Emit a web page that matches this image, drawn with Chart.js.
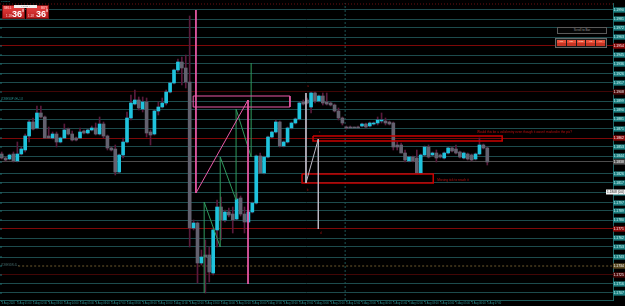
<!DOCTYPE html>
<html>
<head>
<meta charset="utf-8">
<script src="https://cdn.jsdelivr.net/npm/chart.js@4.4.1/dist/chart.umd.min.js"></script>
<style>
  html, body { margin: 0; padding: 0; background: #000; }
  #wrap { position: relative; width: 625px; height: 306px; overflow: hidden; background: #000; font-family: "Liberation Sans", Arial, sans-serif; }
  #chart { position: absolute; left: 0; top: 0; }
  .qbox { position: absolute; top: 5px; width: 23px; height: 14px; box-sizing: border-box; background: linear-gradient(#e84141, #b81d1d); border: 1px solid #7c1010; color: #fff; }
  .qbox .big { position: absolute; top: 4px; font-size: 9px; font-weight: bold; line-height: 9px; }
  .qbox .sup { position: absolute; top: 3px; font-size: 4px; line-height: 4px; }
  .qbox .tiny { position: absolute; font-size: 3px; line-height: 3px; color: #ffd8d8; }
  #lotbar { position: absolute; left: 14px; top: 5px; width: 23px; height: 3px; background: #f0f0f0; color: #555; font-size: 2.5px; line-height: 3px; text-align: center; }
  #toptxt { position: absolute; left: 1px; top: 0px; font-size: 2.5px; line-height: 3px; color: #2aa0a0; }
  #scrollbox { position: absolute; left: 557px; top: 27px; width: 50px; height: 7px; box-sizing: border-box; border: 1px solid #5a5a5a; background: #050505; color: #9a9a9a; font-size: 3px; line-height: 5px; text-align: center; }
  #btnrow { position: absolute; left: 555px; top: 38px; width: 52px; height: 10px; box-sizing: border-box; border: 1px solid #666; background: #1a1a1a; display: flex; gap: 1px; padding: 1px; }
  #btnrow div { flex: 1; background: linear-gradient(#e8503a 0 45%, #c83424 55% 100%); color: #ffe; font-size: 2.5px; line-height: 3.5px; text-align: center; }
</style>
</head>
<body>
<div id="wrap">
  <canvas id="chart" width="625" height="306"></canvas>
  <div id="toptxt">0.00000</div>
  <div class="qbox" style="left:2px">
    <span class="tiny" style="left:1px;top:1px">SELL</span>
    <span class="tiny" style="left:3px;top:9px">1.18</span>
    <span class="big" style="left:9px">36</span>
    <span class="sup" style="left:19px">8</span>
  </div>
  <div class="qbox" style="left:26px">
    <span class="tiny" style="left:14px;top:1px">BUY</span>
    <span class="tiny" style="left:1px;top:9px">1.18</span>
    <span class="big" style="left:9px">36</span>
    <span class="sup" style="left:19px">8</span>
  </div>
  <div id="lotbar">− 0.01 +</div>
  <div id="scrollbox">Scroll to Bar</div>
  <div id="btnrow"><div>M1</div><div>M5</div><div>M15</div><div>H1</div><div>H4</div></div>
</div>
<script>
// etiquetas de tiempo (una cada 4 velas)
const timeLabels = [
  "4 Aug 2020", "4 Aug 01:00", "4 Aug 02:00", "4 Aug 03:00", "4 Aug 04:00", "4 Aug 05:00",
  "4 Aug 06:00", "4 Aug 07:00", "4 Aug 08:00", "4 Aug 09:00", "4 Aug 10:00", "4 Aug 11:00",
  "4 Aug 12:00", "4 Aug 13:00", "4 Aug 14:00", "4 Aug 15:00", "4 Aug 16:00", "4 Aug 17:00",
  "4 Aug 18:00", "4 Aug 19:00", "4 Aug 20:00", "4 Aug 21:00", "4 Aug 22:00", "4 Aug 23:00",
  "5 Aug 00:00", "5 Aug 01:00", "5 Aug 02:00", "5 Aug 03:00", "5 Aug 04:00", "5 Aug 05:00",
  "5 Aug 06:00", "5 Aug 07:00"
];

// velas
const open = [
  1.1846, 1.1842, 1.1841, 1.1846, 1.1839, 1.1846, 1.1850, 1.1864, 1.1878, 1.1872,
  1.1887, 1.1883, 1.1864, 1.1862, 1.1866, 1.1858, 1.1862, 1.1871, 1.1866, 1.1862,
  1.1862, 1.1869, 1.1867, 1.1870, 1.1872, 1.1866, 1.1876, 1.1864, 1.1852, 1.1851,
  1.1828, 1.1845, 1.1858, 1.1882, 1.1896, 1.1900, 1.1891, 1.1898, 1.1868, 1.1866,
  1.1889, 1.1893, 1.1897, 1.1908, 1.1917, 1.1930, 1.1938, 1.1932, 1.1918, 1.1772,
  1.1777, 1.1737, 1.1745, 1.1745, 1.1727, 1.1770, 1.1793, 1.1780, 1.1788, 1.1786,
  1.1781, 1.1802, 1.1786, 1.1778, 1.1788, 1.1797, 1.1844, 1.1827, 1.1843, 1.1863,
  1.1868, 1.1878, 1.1854, 1.1858, 1.1872, 1.1877, 1.1881, 1.1898, 1.1900, 1.1893,
  1.1907, 1.1899, 1.1904, 1.1898, 1.1897, 1.1895, 1.1889, 1.1882, 1.1873, 1.1873,
  1.1873, 1.1873, 1.1874, 1.1876, 1.1874, 1.1876, 1.1877, 1.1879, 1.1879, 1.1878,
  1.1877, 1.1855, 1.1855, 1.1847, 1.1839, 1.1843, 1.1842, 1.1827, 1.1845, 1.1853,
  1.1845, 1.1847, 1.1845, 1.1842, 1.1847, 1.1852, 1.1851, 1.1848, 1.1842, 1.1846,
  1.1845, 1.1841, 1.1846, 1.1855, 1.1852
];
const high = [
  1.1848, 1.1843, 1.1846, 1.1848, 1.1858, 1.1853, 1.1866, 1.1880, 1.1882, 1.1894,
  1.1894, 1.1884, 1.1873, 1.1868, 1.1868, 1.1863, 1.1876, 1.1872, 1.1869, 1.1863,
  1.1872, 1.1870, 1.1871, 1.1874, 1.1877, 1.1883, 1.1878, 1.1865, 1.1853, 1.1855,
  1.1846, 1.1862, 1.1888, 1.1905, 1.1910, 1.1903, 1.1903, 1.1902, 1.1870, 1.1890,
  1.1898, 1.1902, 1.1910, 1.1918, 1.1931, 1.1941, 1.1943, 1.1945, 1.1984, 1.1780,
  1.1778, 1.1750, 1.1760, 1.1753, 1.1772, 1.1800, 1.1803, 1.1790, 1.1792, 1.1793,
  1.1807, 1.1804, 1.1793, 1.1790, 1.1798, 1.1845, 1.1847, 1.1844, 1.1864, 1.1869,
  1.1880, 1.1879, 1.1859, 1.1873, 1.1878, 1.1882, 1.1898, 1.1900, 1.1902, 1.1908,
  1.1908, 1.1905, 1.1907, 1.1907, 1.1898, 1.1896, 1.1892, 1.1883, 1.1874, 1.1874,
  1.1873, 1.1874, 1.1877, 1.1877, 1.1878, 1.1878, 1.1883, 1.1887, 1.1882, 1.1879,
  1.1878, 1.1858, 1.1857, 1.1850, 1.1844, 1.1844, 1.1850, 1.1846, 1.1854, 1.1855,
  1.1848, 1.1850, 1.1846, 1.1848, 1.1853, 1.1853, 1.1855, 1.1849, 1.1848, 1.1847,
  1.1846, 1.1847, 1.1862, 1.1856, 1.1853
];
const low = [
  1.1841, 1.1839, 1.1840, 1.1838, 1.1838, 1.1845, 1.1848, 1.1858, 1.1870, 1.1871,
  1.1882, 1.1862, 1.1862, 1.1861, 1.1853, 1.1857, 1.1862, 1.1865, 1.1859, 1.1859,
  1.1862, 1.1866, 1.1866, 1.1869, 1.1865, 1.1865, 1.1862, 1.1850, 1.1849, 1.1825,
  1.1827, 1.1842, 1.1857, 1.1880, 1.1895, 1.1890, 1.1888, 1.1863, 1.1855, 1.1865,
  1.1885, 1.1892, 1.1895, 1.1907, 1.1916, 1.1928, 1.1915, 1.1912, 1.1753, 1.1770,
  1.1717, 1.1735, 1.1707, 1.1718, 1.1725, 1.1753, 1.1760, 1.1778, 1.1783, 1.1767,
  1.1780, 1.1784, 1.1767, 1.1777, 1.1787, 1.1796, 1.1827, 1.1826, 1.1842, 1.1862,
  1.1867, 1.1853, 1.1853, 1.1857, 1.1871, 1.1876, 1.1880, 1.1895, 1.1896, 1.1887,
  1.1897, 1.1898, 1.1895, 1.1895, 1.1894, 1.1888, 1.1880, 1.1875, 1.1871, 1.1872,
  1.1872, 1.1872, 1.1873, 1.1872, 1.1873, 1.1875, 1.1875, 1.1877, 1.1875, 1.1875,
  1.1850, 1.1850, 1.1847, 1.1838, 1.1838, 1.1838, 1.1826, 1.1826, 1.1844, 1.1842,
  1.1844, 1.1838, 1.1842, 1.1841, 1.1846, 1.1848, 1.1846, 1.1842, 1.1841, 1.1840,
  1.1839, 1.1840, 1.1845, 1.1851, 1.1835
];
const close = [
  1.1842, 1.1840, 1.1845, 1.1839, 1.1846, 1.1851, 1.1864, 1.1878, 1.1871, 1.1887,
  1.1883, 1.1862, 1.1862, 1.1866, 1.1858, 1.1862, 1.1870, 1.1866, 1.1860, 1.1860,
  1.1868, 1.1867, 1.1870, 1.1872, 1.1866, 1.1876, 1.1864, 1.1852, 1.1850, 1.1828,
  1.1845, 1.1858, 1.1882, 1.1897, 1.1900, 1.1892, 1.1898, 1.1867, 1.1865, 1.1889,
  1.1893, 1.1897, 1.1908, 1.1917, 1.1930, 1.1938, 1.1932, 1.1918, 1.1772, 1.1777,
  1.1737, 1.1743, 1.1743, 1.1728, 1.1770, 1.1793, 1.1780, 1.1788, 1.1785, 1.1780,
  1.1801, 1.1786, 1.1778, 1.1788, 1.1797, 1.1844, 1.1827, 1.1843, 1.1863, 1.1868,
  1.1878, 1.1854, 1.1858, 1.1872, 1.1877, 1.1881, 1.1897, 1.1896, 1.1897, 1.1907,
  1.1899, 1.1904, 1.1897, 1.1896, 1.1895, 1.1889, 1.1882, 1.1877, 1.1872, 1.1872,
  1.1872, 1.1872, 1.1876, 1.1873, 1.1877, 1.1877, 1.1880, 1.1880, 1.1877, 1.1876,
  1.1853, 1.1853, 1.1847, 1.1840, 1.1843, 1.1839, 1.1827, 1.1845, 1.1853, 1.1843,
  1.1847, 1.1842, 1.1843, 1.1847, 1.1852, 1.1849, 1.1847, 1.1843, 1.1847, 1.1841,
  1.1840, 1.1846, 1.1855, 1.1852, 1.1838
];

// niveles horizontales (t = teal, r = rojo, d = rojo oscuro, g = gris, b = discontinuo)
const levels = [
  1.1990, 1.1981, 1.1972, 1.1963, 1.1954, 1.1945, 1.1936, 1.1926, 1.1917, 1.1908,
  1.1899, 1.1890, 1.1881, 1.1871, 1.1862, 1.1853, 1.1844, 1.1838, 1.1826, 1.1817,
  1.1807, 1.1797, 1.1789, 1.1780, 1.1771, 1.1762, 1.1753, 1.1743, 1.1734, 1.1725,
  1.1716, 1.1707
];
const levelKinds = [
  "t", "t", "t", "t", "r", "t", "t", "t", "t", "d",
  "t", "t", "t", "t", "r", "t", "t", "g", "t", "t",
  "t", "t", "t", "t", "r", "t", "t", "t", "b", "d",
  "t", "t"
];

// dibujos (indice de vela, precio)
const pinkPath = [
  { x: 49.6, y: 1.1990 }, { x: 49.6, y: 1.1807 }, { x: 62.9, y: 1.1900 }, { x: 62.9, y: 1.1716 }
];
const pinkBox = [
  { x: 48.9, y: 1.1904 }, { x: 73.6, y: 1.1904 }, { x: 73.6, y: 1.1893 }, { x: 48.9, y: 1.1893 }, { x: 48.9, y: 1.1904 }
];
const greenZigzag = [
  { x: 51.7, y: 1.1707 }, { x: 51.7, y: 1.1798 }, { x: 55.8, y: 1.1753 }, { x: 55.8, y: 1.1843 },
  { x: 59.85, y: 1.1800 }, { x: 59.85, y: 1.1891 }, { x: 63.7, y: 1.1843 }, { x: 63.7, y: 1.1937 }
];
const grayPath = [
  { x: 77.7, y: 1.1907 }, { x: 77.7, y: 1.1817 }, { x: 80.85, y: 1.1861 }, { x: 80.85, y: 1.1771 }
];
const redBox1 = [
  { x: 79.5, y: 1.1864 }, { x: 127.8, y: 1.1864 }, { x: 127.8, y: 1.1859 }, { x: 79.5, y: 1.1859 }, { x: 79.5, y: 1.1864 }
];
const redBox2 = [
  { x: 76.7, y: 1.1826 }, { x: 110.2, y: 1.1826 }, { x: 110.2, y: 1.1817 }, { x: 76.7, y: 1.1817 }, { x: 76.7, y: 1.1826 }
];
const sepLine = [{ x: 87.7, y: 1.1700 }, { x: 87.7, y: 1.1997 }];
const dashLevel = [{ x: 4.2, y: 1.1734 }, { x: 156.1, y: 1.1734 }];
const topDots = [{ x: -0.434, y: 1.1996 }, { x: 156.1, y: 1.1996 }];

// textos
const noteTexts = ["Would this be a valid entry even though it wasn't marked in the pic?", "Missing tick to reach it"];
const noteX = [121.4, 111.2];
const noteY = [1.1868, 1.1820];
const markTexts = ["a", "b", "c", "d"];
const markX = [78.0, 77.9, 81.05, 81.3];
const markY = [1.1914, 1.1810, 1.1868, 1.1767];
const zoneTexts = ["ZONESUP 4H ▪1.8", "ZONESDN 4L ▪"];
const zoneY = [1.1900, 1.1734];
const bidPrice = 1.1808;

const cBull = "#1fc3dd";
const cBear = "#63616f";
const cWick = "#5a1a3c";
const lineCol = { t: "#1d4b4d", r: "#7e0808", d: "#420606", g: "#4d4d4d", b: "rgba(0,0,0,0)" };
const tagFill = { t: "#1b7d7f", r: "#8a0a0a", d: "#4a0808", g: "#555555", b: "#5a4a22" };

Chart.defaults.font.family = "'Liberation Sans', Arial, sans-serif";

function trazo(data, color, extra) {
  return Object.assign({
    type: "line", data: data, borderColor: color, borderWidth: 1,
    pointRadius: 0, fill: false, tension: 0, order: 1
  }, extra || {});
}

const notasPlugin = {
  id: "notas",
  afterDatasetsDraw(chart) {
    const { ctx, scales } = chart;
    const sx = scales.x, sy = scales.y;
    ctx.save();
    ctx.textBaseline = "middle";
    ctx.fillStyle = "#c01010";
    ctx.font = "3.2px 'Liberation Sans'";
    noteTexts.forEach((t, i) => ctx.fillText(t, sx.getPixelForValue(noteX[i]), sy.getPixelForValue(noteY[i])));
    ctx.fillStyle = "#a01010";
    ctx.font = "3px 'Liberation Sans'";
    markTexts.forEach((t, i) => ctx.fillText(t, sx.getPixelForValue(markX[i]), sy.getPixelForValue(markY[i])));
    ctx.font = "2.6px 'Liberation Sans'";
    zoneTexts.forEach((t, i) => {
      ctx.fillStyle = i === 0 ? "#2a9a9a" : "#4a7070";
      ctx.fillText(t, chart.chartArea.left + 1, sy.getPixelForValue(zoneY[i]) - 1);
    });
    // marcas del borde izquierdo
    ctx.fillStyle = "#1f6f70";
    levels.forEach(v => ctx.fillRect(chart.chartArea.left, sy.getPixelForValue(v) - 0.5, 2, 1));
    // etiqueta blanca del precio
    const yb = sy.getPixelForValue(bidPrice);
    ctx.fillStyle = "#f4f4f4";
    ctx.fillRect(606, yb - 2.5, 19, 5);
    ctx.fillStyle = "#222";
    ctx.font = "3.2px 'Liberation Sans'";
    ctx.fillText(bidPrice.toFixed(4) + " (0.0)", 607, yb);
    ctx.restore();
  }
};

const wickData = open.map((o, i) => ({ x: i, y: [low[i], high[i]] }));
const bodyData = open.map((o, i) => ({ x: i, y: [o, close[i]] }));
const bodyColors = open.map((o, i) => (close[i] > o ? cBull : cBear));

new Chart(document.getElementById("chart"), {
  type: "bar",
  data: {
    datasets: [
      trazo(pinkPath, "#ea5aa8", { order: 0 }),
      trazo(pinkBox, "#ea5aa8", { order: 0 }),
      trazo(greenZigzag, "#2f9a5e", { order: 0 }),
      trazo(grayPath, "#bcb8c4", { order: 0 }),
      trazo(redBox1, "#cc0000", { borderWidth: 1.5, order: 0 }),
      trazo(redBox2, "#cc0000", { borderWidth: 1.5, order: 0 }),
      trazo(topDots, "#6e1010", { borderDash: [1, 2], order: 9 }),
      trazo(dashLevel, "#6e5a2e", { borderDash: [2, 2], order: 9 }),
      trazo(sepLine, "#1e5656", { borderDash: [2, 2], order: 9 }),
      { type: "bar", data: bodyData, backgroundColor: bodyColors, barThickness: 3, grouped: false, minBarLength: 1, order: 5 },
      { type: "bar", data: wickData, backgroundColor: cWick, barThickness: 1, grouped: false, order: 6 }
    ]
  },
  options: {
    responsive: false,
    animation: false,
    events: [],
    layout: { padding: { top: 3, left: 0, right: 0, bottom: 0 } },
    plugins: { legend: { display: false }, tooltip: { enabled: false } },
    scales: {
      x: {
        type: "linear", min: -0.434, max: 156.1, offset: false,
        afterBuildTicks: s => { s.ticks = timeLabels.map((t, k) => ({ value: k * 4 })); },
        afterFit: s => { s.height = 6; },
        ticks: {
          autoSkip: false, maxRotation: 0, minRotation: 0, align: "start", padding: 0,
          color: "#2f8f90", font: { size: 2.6 },
          callback: v => timeLabels[v / 4]
        },
        grid: { offset: false, drawOnChartArea: false, drawTicks: true, tickLength: 2, tickColor: "#1e5a5a" },
        border: { color: "#1e5a5a" }
      },
      y: {
        position: "right", min: 1.1700, max: 1.1997,
        afterBuildTicks: s => { s.ticks = levels.map(v => ({ value: v })); },
        afterFit: s => { s.width = 12; },
        ticks: {
          autoSkip: false, padding: 0.5,
          font: { size: 3.4 },
          color: c => (levelKinds[c.index] === "t" ? "#d8ffff" : "#ffffff"),
          showLabelBackdrop: true,
          backdropColor: c => tagFill[levelKinds[c.index]] || "#1b7d7f",
          backdropPadding: { top: 0.6, bottom: 0.6, left: 0.5, right: 2 },
          callback: v => v.toFixed(4)
        },
        grid: {
          drawTicks: false,
          color: c => lineCol[levelKinds[c.index]] || "#1d4b4d"
        },
        border: { color: "#1e6464" }
      }
    }
  },
  plugins: [notasPlugin]
});
</script>
</body>
</html>
